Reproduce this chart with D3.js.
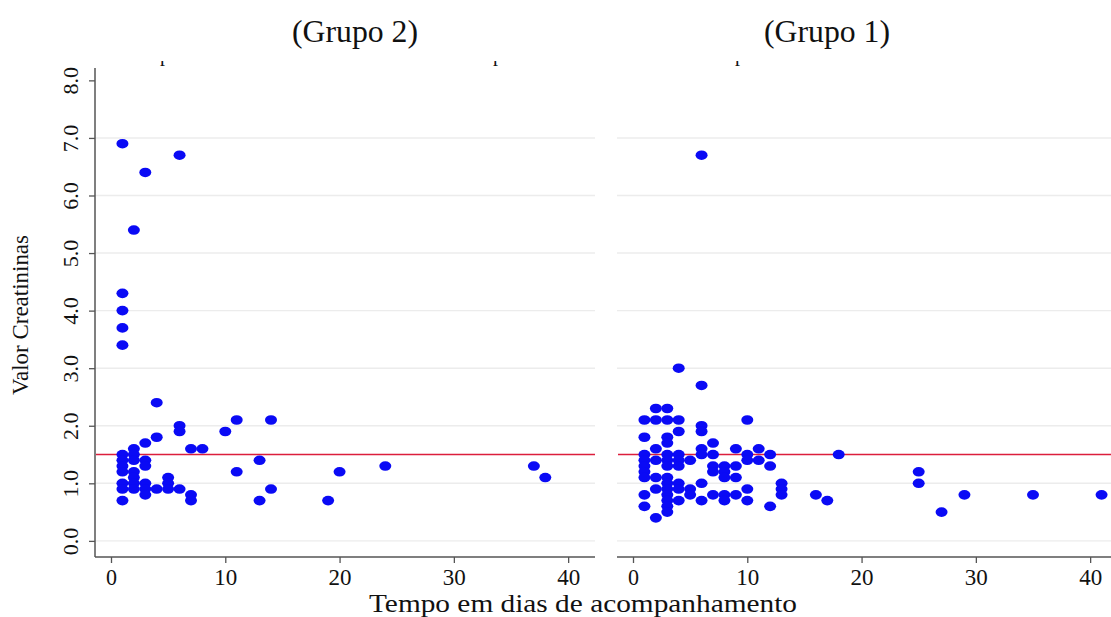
<!DOCTYPE html>
<html>
<head>
<meta charset="utf-8">
<script src="https://cdn.jsdelivr.net/npm/d3@7"></script>
<style>
  html, body { margin: 0; padding: 0; background: #fff; }
  svg { display: block; }
  text { font-family: "Liberation Serif", "Times New Roman", serif; fill: #111; }
</style>
</head>
<body>
<svg id="chart" width="1111" height="617"></svg>
<script>
// ---- Data ----
const panelTitles = ["(Grupo 2)", "(Grupo 1)"];
const xTicks = [0, 10, 20, 30, 40];
const yTicks = [0, 1, 2, 3, 4, 5, 6, 7, 8];
const referenceValue = 1.5;
const xLabel = "Tempo em dias de acompanhamento";
const yLabel = "Valor Creatininas";

// Grupo 2: [dias, creatinina]
const grupo2 = [
  [1, 6.9], [1, 4.3], [1, 4.0], [1, 3.7], [1, 3.4], [1, 1.5], [1, 1.4], [1, 1.3], [1, 1.2], [1, 1.0], [1, 0.9], [1, 0.7],
  [2, 5.4], [2, 1.6], [2, 1.5], [2, 1.4], [2, 1.2], [2, 1.1], [2, 1.0], [2, 0.9],
  [3, 6.4], [3, 1.7], [3, 1.4], [3, 1.3], [3, 1.0], [3, 0.9], [3, 0.8],
  [4, 2.4], [4, 1.8], [4, 0.9],
  [5, 1.1], [5, 1.0], [5, 0.9],
  [6, 6.7], [6, 2.0], [6, 1.9], [6, 0.9],
  [7, 1.6], [7, 0.8], [7, 0.7],
  [8, 1.6],
  [10, 1.9],
  [11, 2.1], [11, 1.2],
  [13, 1.4], [13, 0.7],
  [14, 2.1], [14, 0.9],
  [19, 0.7], [20, 1.2], [24, 1.3], [37, 1.3], [38, 1.1]
];

// Grupo 1: [dias, creatinina]
const grupo1 = [
  [1, 2.1], [1, 1.8], [1, 1.5], [1, 1.4], [1, 1.3], [1, 1.2], [1, 1.1], [1, 0.8], [1, 0.6],
  [2, 2.3], [2, 2.1], [2, 1.6], [2, 1.4], [2, 1.1], [2, 0.9], [2, 0.4],
  [3, 2.3], [3, 2.1], [3, 1.8], [3, 1.7], [3, 1.5], [3, 1.4], [3, 1.3], [3, 1.1], [3, 1.0], [3, 0.9], [3, 0.8], [3, 0.7], [3, 0.6], [3, 0.5],
  [4, 3.0], [4, 2.1], [4, 1.9], [4, 1.5], [4, 1.4], [4, 1.3], [4, 1.0], [4, 0.9], [4, 0.7],
  [5, 1.4], [5, 0.9], [5, 0.8],
  [6, 6.7], [6, 2.7], [6, 2.0], [6, 1.9], [6, 1.6], [6, 1.5], [6, 1.0], [6, 0.7],
  [7, 1.7], [7, 1.5], [7, 1.3], [7, 1.2], [7, 0.8],
  [8, 1.3], [8, 1.2], [8, 1.1], [8, 0.8], [8, 0.7],
  [9, 1.6], [9, 1.3], [9, 1.1], [9, 0.8],
  [10, 2.1], [10, 1.5], [10, 1.4], [10, 0.9], [10, 0.7],
  [11, 1.6], [11, 1.4],
  [12, 1.5], [12, 1.3], [12, 0.6],
  [13, 1.0], [13, 0.9], [13, 0.8],
  [16, 0.8], [17, 0.7], [18, 1.5],
  [25, 1.2], [25, 1.0], [27, 0.5], [29, 0.8], [35, 0.8], [41, 0.8]
];

// ---- Layout ----
const svg = d3.select("#chart");
const plotTop = 70, plotBottom = 557;
const panels = [
  { title: panelTitles[0], data: grupo2, x0: 95, x1: 595, yAxis: true, titleX: 355 },
  { title: panelTitles[1], data: grupo1, x0: 617, x1: 1117, yAxis: false, titleX: 827 }
];
const y = d3.scaleLinear().domain([-0.28, 8.18]).range([plotBottom, plotTop]);

svg.append("clipPath").attr("id", "vp")
  .append("rect").attr("x", 0).attr("y", 0).attr("width", 1111).attr("height", 617);

panels.forEach((p, i) => {
  const x = d3.scaleLinear().domain([-1.4, 42.35]).range([p.x0, p.x1]);
  const g = svg.append("g").attr("clip-path", "url(#vp)");
  const xEnd = Math.min(p.x1, 1111);

  // grid lines
  g.selectAll(".grid").data(yTicks.filter(d => d < 8)).enter().append("line")
    .attr("x1", p.x0).attr("x2", xEnd)
    .attr("y1", d => y(d)).attr("y2", d => y(d))
    .attr("stroke", "#ececec").attr("stroke-width", 1.4);

  // reference line
  g.append("line")
    .attr("x1", p.x0 + 1).attr("x2", xEnd)
    .attr("y1", y(referenceValue)).attr("y2", y(referenceValue))
    .attr("stroke", "#dc1e3c").attr("stroke-width", 1.5);

  // points
  g.selectAll(".pt").data(p.data).enter().append("ellipse")
    .attr("cx", d => x(d[0])).attr("cy", d => y(d[1]))
    .attr("rx", 6).attr("ry", 4.8)
    .attr("fill", "#0a0af5");

  // x axis
  const xa = g.append("g").attr("transform", `translate(0,${plotBottom})`)
    .call(d3.axisBottom(x).tickValues(xTicks).tickSize(6).tickPadding(5).tickFormat(d3.format("d")));
  xa.select(".domain").attr("stroke", "#555").attr("stroke-width", 1.5)
    .attr("d", `M${p.x0},0H${xEnd}`);
  xa.selectAll(".tick line").attr("stroke", "#555").attr("stroke-width", 1.3);
  xa.selectAll(".tick text").attr("font-size", 24).attr("font-family", "Liberation Serif").attr("fill", "#111")
    .attr("textLength", 23).attr("lengthAdjust", "spacingAndGlyphs")
    .filter(d => d === 0).attr("textLength", 11);

  // y axis (left panel only)
  if (p.yAxis) {
    const ya = svg.append("g").attr("transform", `translate(${p.x0},0)`)
      .call(d3.axisLeft(y).tickValues(yTicks).tickSize(6).tickPadding(0).tickFormat(d3.format(".1f")));
    ya.select(".domain").attr("stroke", "#555").attr("stroke-width", 1.5)
      .attr("d", `M0,${plotTop - 2}V${plotBottom}`);
    ya.selectAll(".tick line").attr("stroke", "#555").attr("stroke-width", 1.3);
    ya.selectAll(".tick text")
      .attr("font-size", 22).attr("font-family", "Liberation Serif").attr("fill", "#111")
      .attr("text-anchor", "middle").attr("dy", null)
      .attr("x", null)
      .attr("transform", "translate(-25,0) rotate(-90)")
      .attr("y", 0).attr("dominant-baseline", "central");
  }

  // panel title
  svg.append("text").attr("x", p.titleX).attr("y", 42)
    .attr("text-anchor", "middle").attr("font-size", 31)
    .attr("textLength", 126).attr("lengthAdjust", "spacingAndGlyphs").text(p.title);
});

// clipped descender fragments of cut-off text at top
const fragClip = svg.append("clipPath").attr("id", "fragclip");
fragClip.append("rect").attr("x", 0).attr("y", 61).attr("width", 1111).attr("height", 8);
const fragX = [165, 498, 740];
svg.append("g").attr("clip-path", "url(#fragclip)")
  .selectAll("text").data(fragX).enter().append("text")
  .attr("x", d => d).attr("y", 61).attr("text-anchor", "middle")
  .attr("font-size", 20).text("p");

// axis titles
svg.append("text").attr("x", 583).attr("y", 612).attr("text-anchor", "middle")
  .attr("font-size", 25).attr("textLength", 428).attr("lengthAdjust", "spacingAndGlyphs").text(xLabel);
svg.append("text").attr("transform", "translate(28,315) rotate(-90)")
  .attr("text-anchor", "middle").attr("font-size", 23)
  .attr("textLength", 160).attr("lengthAdjust", "spacingAndGlyphs").text(yLabel);
</script>
</body>
</html>
